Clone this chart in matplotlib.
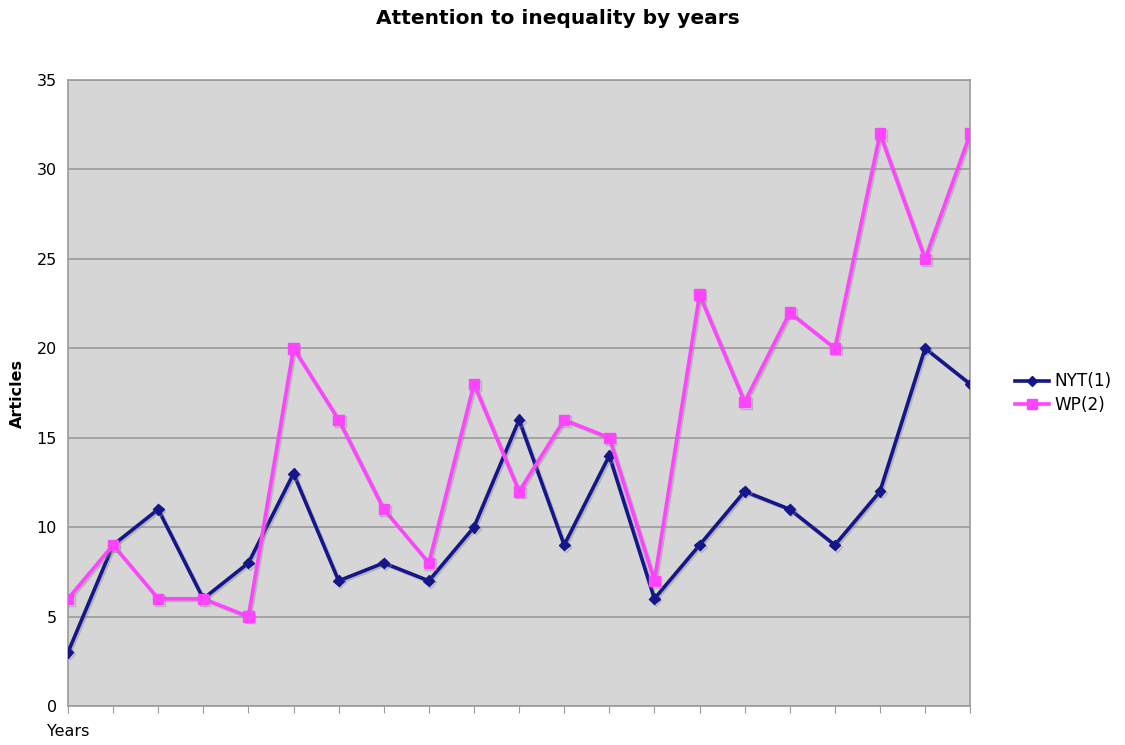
import matplotlib
matplotlib.use("Agg")
import matplotlib.pyplot as plt
import matplotlib.patheffects as pe
import numpy as np

# Article counts per year
nyt = [3, 9, 11, 6, 8, 13, 7, 8, 7, 10, 16, 9, 14, 6, 9, 12, 11, 9, 12, 20, 18]
wp = [6, 9, 6, 6, 5, 20, 16, 11, 8, 18, 12, 16, 15, 7, 23, 17, 22, 20, 32, 25, 32]
y_ticks = [0, 5, 10, 15, 20, 25, 30, 35]

x = np.arange(len(nyt))

fig = plt.figure(figsize=(11.25, 7.45), dpi=100)
ax = fig.add_axes([0.0604, 0.0523, 0.802, 0.8403])
ax.set_facecolor("#d6d6d6")

shadow = [pe.SimpleLineShadow(offset=(1.2, -1.2), shadow_color="#8a8a8a", alpha=0.45), pe.Normal()]

ax.plot(x, nyt, color="#16168c", lw=2.6, marker="D", ms=5.5, label="NYT(1)",
        path_effects=shadow, zorder=3)
ax.plot(x, wp, color="#ff44ff", lw=2.6, marker="s", ms=7.5, label="WP(2)",
        path_effects=shadow, zorder=3)

ax.set_xlim(0, len(nyt) - 1)
ax.set_ylim(0, 35)
ax.set_yticks(y_ticks)
ax.yaxis.grid(True, color="#9a9a9a", lw=1.2)
ax.set_axisbelow(True)
ax.tick_params(axis="y", length=0, labelsize=11.5, pad=8)
ax.set_xticks(x)
ax.set_xticklabels([])
ax.tick_params(axis="x", length=5, color="#9a9a9a", direction="out")
for s in ax.spines.values():
    s.set_color("#9a9a9a")
    s.set_linewidth(1.2)

ax.set_ylabel("Articles", fontsize=11.5, fontweight="bold", labelpad=8)
fig.text(0.042, 0.008, "Years", fontsize=11.5, ha="left", va="bottom")
fig.suptitle("Attention to inequality by years", x=0.496, y=0.988,
             fontsize=14.5, fontweight="heavy")

leg = ax.legend(loc="center left", bbox_to_anchor=(1.033, 0.5), frameon=False,
                fontsize=12.2, handlelength=2.0, handletextpad=0.3, labelspacing=0.3)
for h in leg.legend_handles:
    h.set_path_effects([])

fig.savefig("out.png", dpi=100)
